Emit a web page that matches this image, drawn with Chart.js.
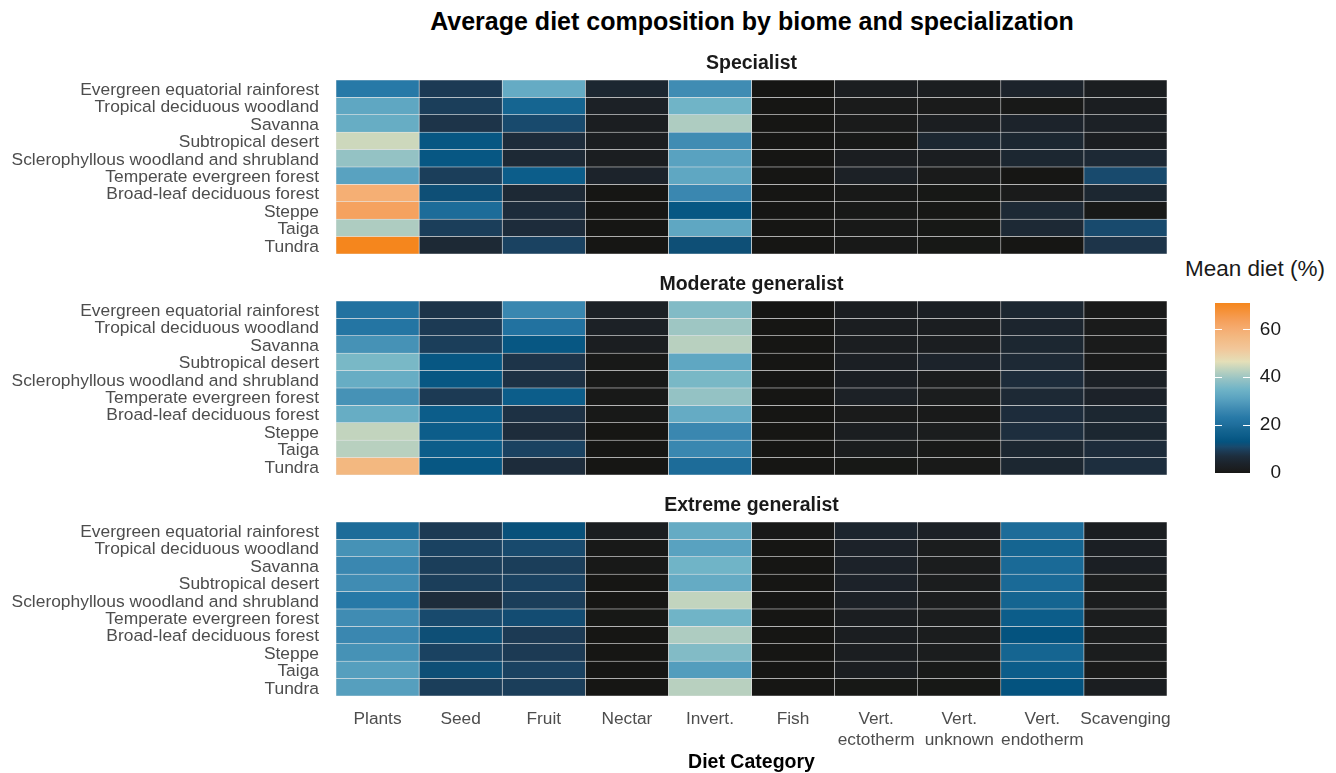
<!DOCTYPE html>
<html>
<head>
<meta charset="utf-8">
<script src="https://cdn.jsdelivr.net/npm/chart.js@4.4.1/dist/chart.umd.min.js"></script>
<style>
  body { margin: 0; background: #fff; font-family: "Liberation Sans", Arial, sans-serif; }
  #wrap { position: relative; width: 1336px; height: 773px; overflow: hidden; }
  canvas { position: absolute; }
  .txt { position: absolute; white-space: nowrap; }
  #title { left: 0; width: 1504px; text-align: center; top: 6px; font-size: 25px; line-height: 30px; font-weight: bold; color: #000; }
  #legendTitle { left: 1185px; top: 256px; font-size: 22.5px; line-height: 26px; color: #1a1a1a; }
</style>
</head>
<body>
<div id="wrap">
  <div class="txt" id="title">Average diet composition by biome and specialization</div>
  <div class="txt" id="legendTitle">Mean diet (%)</div>
  <canvas id="panel1" width="1180" height="204" style="left:0;top:50px"></canvas>
  <canvas id="panel2" width="1180" height="204" style="left:0;top:271px"></canvas>
  <canvas id="panel3" width="1180" height="282" style="left:0;top:492px"></canvas>
  <canvas id="colourbar" width="166" height="240" style="left:1170px;top:250px"></canvas>
</div>
<script>
const biomes = [
  "Evergreen equatorial rainforest", "Tropical deciduous woodland", "Savanna",
  "Subtropical desert", "Sclerophyllous woodland and shrubland", "Temperate evergreen forest",
  "Broad-leaf deciduous forest", "Steppe", "Taiga", "Tundra"
];
const dietCategories = ["Plants", "Seed", "Fruit", "Nectar", "Invert.", "Fish",
  "Vert. ectotherm", "Vert. unknown", "Vert. endotherm", "Scavenging"];
const dietTickLabels = [["Plants"], ["Seed"], ["Fruit"], ["Nectar"], ["Invert."], ["Fish"],
  ["Vert.", "ectotherm"], ["Vert.", "unknown"], ["Vert.", "endotherm"], ["Scavenging"]];

// rows = biomes, columns = diet categories (mean %)
const specialist = [
  [23, 9, 33, 5, 27, 0, 2, 2, 4, 2],
  [32, 9.5, 18, 3, 35, 0, 1, 1, 0.5, 2],
  [33.5, 8, 11, 2, 41.5, 0, 1, 2, 4, 3],
  [44.5, 14, 6.5, 2, 27, 0, 0.5, 5, 5, 2],
  [39, 14, 5.5, 2, 31, 0, 2, 2, 5, 5.5],
  [31, 9.5, 15.5, 4, 32, 0, 3, 1, 0, 11],
  [59.5, 12, 5.5, 0, 26, 0, 0.5, 0.3, 1, 5],
  [63, 19.5, 6.5, 0, 14, 0, 0.5, 0.3, 5.5, 0.5],
  [41.5, 9.5, 6.5, 0, 32, 0, 0.5, 0.3, 5.5, 11],
  [71, 5.5, 10, 0, 12, 0, 0.5, 0.3, 0, 8]
];
const moderateGeneralist = [
  [21, 8, 26, 3, 37, 0, 2, 2.5, 5, 0.8],
  [22, 9, 21, 3, 40, 0, 2, 2, 4.5, 1],
  [28, 9.5, 14, 2, 42.5, 0, 2, 2, 5, 1],
  [36, 14, 8, 0.5, 32, 0, 2.5, 4, 5.5, 0.8],
  [33.5, 14, 7.5, 0.5, 36, 0, 2.5, 1.5, 6.5, 3],
  [28, 9, 15.5, 0.5, 39, 0, 3, 1.5, 5.5, 3.5],
  [33.5, 15.5, 7.5, 0.5, 33, 0, 1, 0.8, 6.5, 5],
  [43.5, 15.5, 6.5, 0, 26, 0, 2, 1.5, 7, 5],
  [42.5, 15.5, 10, 0, 26, 0, 1.5, 0.7, 5, 6.5],
  [57, 14, 6.5, 0, 19.5, 0, 0.3, 0.7, 5, 7]
];
const extremeGeneralist = [
  [19.5, 9, 12.5, 2, 33, 0.5, 4.5, 3, 19.5, 2],
  [28, 10, 11, 0.5, 31, 0, 3.5, 1.5, 18, 2.5],
  [26, 9.5, 9.5, 0.5, 35, 0, 3.5, 1.5, 19, 2.5],
  [27, 9.5, 10, 0, 33, 0, 3.5, 1.5, 19, 1.5],
  [23, 6.5, 9.5, 0, 43.5, 0, 3, 1.5, 18, 1.5],
  [27, 11, 11.5, 0.3, 35, 0, 2, 1.5, 15.5, 1.5],
  [26, 12, 9, 0, 41.5, 0, 2, 1.5, 13, 1.5],
  [28, 10, 9, 0, 37, 0, 2, 1.5, 18, 1.5],
  [30.5, 12, 10, 0, 30, 0, 2, 0.7, 15.5, 1],
  [30.5, 9.5, 9.5, 0, 42.5, 0, 0.3, 0.3, 13, 2]
];
const legendTicks = [0, 20, 40, 60];

// colour scale: value -> colour
const paletteStops = [
  [0, "#161614"], [1, "#1a1b1b"], [2, "#1b1e21"], [4, "#1c232b"], [7, "#1d2e3e"],
  [9, "#1c3a54"], [11, "#184a6d"], [13, "#04537f"], [15.5, "#0c5d8a"], [18, "#156591"],
  [20, "#1f6e9c"], [23, "#2779a7"], [26, "#3a87b0"], [31, "#59a2c0"], [35, "#70b4c7"],
  [39, "#94c2c4"], [43.5, "#c2d4be"], [46.5, "#e4dfb8"], [52, "#f2c699"], [57, "#f3b880"],
  [60, "#f5ad72"], [64, "#f59e58"], [71.1, "#f5861c"]
];

const vmax = Math.max(...[specialist, moderateGeneralist, extremeGeneralist].flat(2));

function hexToRgb(h) {
  return [1, 3, 5].map(i => parseInt(h.slice(i, i + 2), 16));
}
function colourFor(v) {
  for (let i = 1; i < paletteStops.length; i++) {
    const [v1, c1] = paletteStops[i];
    if (v <= v1) {
      const [v0, c0] = paletteStops[i - 1];
      const t = (v - v0) / (v1 - v0);
      const a = hexToRgb(c0), b = hexToRgb(c1);
      const m = a.map((x, k) => Math.round(x + (b[k] - x) * t));
      return `rgb(${m[0]},${m[1]},${m[2]})`;
    }
  }
  return paletteStops[paletteStops.length - 1][1];
}

Chart.defaults.font.family = '"Liberation Sans", Arial, sans-serif';

const stripPlugin = {
  id: "stripLabel",
  afterDraw(chart, args, opts) {
    const { ctx, chartArea } = chart;
    ctx.save();
    ctx.font = 'bold 19.5px "Liberation Sans", Arial, sans-serif';
    ctx.fillStyle = "#1a1a1a";
    ctx.textAlign = "center";
    ctx.textBaseline = "middle";
    ctx.fillText(opts.text, (chartArea.left + chartArea.right) / 2, chartArea.top - 16.5);
    ctx.restore();
  }
};

function makePanel(id, strip, values, showX) {
  new Chart(document.getElementById(id), {
    type: "bar",
    data: {
      labels: biomes,
      datasets: dietCategories.map((name, c) => ({
        label: name,
        data: biomes.map(() => 1),
        backgroundColor: values.map(row => colourFor(row[c])),
        borderColor: "#e8e8e8",
        borderWidth: 0.6,
        borderSkipped: false
      }))
    },
    options: {
      indexAxis: "y",
      responsive: false,
      animation: false,
      layout: { padding: { top: 30, right: 13 } },
      datasets: { bar: { barPercentage: 1, categoryPercentage: 1 } },
      plugins: {
        legend: { display: false },
        tooltip: { enabled: false },
        stripLabel: { text: strip }
      },
      scales: {
        x: {
          display: showX,
          type: "linear",
          stacked: true,
          min: 0,
          max: dietCategories.length,
          grid: { display: false, drawTicks: false },
          border: { display: false },
          afterBuildTicks: s => { s.ticks = dietCategories.map((_, i) => ({ value: i + 0.5 })); },
          afterFit: s => {
            s.height = showX ? 78 : 0;
            s.paddingLeft = 0;
            s.paddingRight = 0;
          },
          ticks: {
            autoSkip: false,
            maxRotation: 0,
            padding: 12.5,
            color: "#4d4d4d",
            font: { size: 17.3, lineHeight: 1.24 },
            callback: v => dietTickLabels[Math.floor(v)]
          },
          title: {
            display: true,
            text: "Diet Category",
            color: "#000",
            font: { size: 19.5, weight: "bold" },
            padding: 0
          }
        },
        y: {
          stacked: true,
          grid: { display: false, drawTicks: false },
          border: { display: false },
          afterFit: s => {
            s.width = 336;
            s.paddingTop = 0;
            s.paddingBottom = 0;
          },
          ticks: { autoSkip: false, padding: 17, labelOffset: 1.5, color: "#4d4d4d", font: { size: 17.4 } }
        }
      }
    },
    plugins: [stripPlugin]
  });
}

makePanel("panel1", "Specialist", specialist, false);
makePanel("panel2", "Moderate generalist", moderateGeneralist, false);
makePanel("panel3", "Extreme generalist", extremeGeneralist, true);

const colourbarTicks = {
  id: "colourbarTicks",
  afterDatasetsDraw(chart) {
    const { ctx, chartArea: a, scales: { y } } = chart;
    ctx.save();
    ctx.strokeStyle = "#fff";
    ctx.lineWidth = 1.2;
    legendTicks.filter(v => v > 0).forEach(v => {
      const py = Math.round(y.getPixelForValue(v)) + 0.5;
      ctx.beginPath();
      ctx.moveTo(a.left, py); ctx.lineTo(a.left + 7, py);
      ctx.moveTo(a.right - 7, py); ctx.lineTo(a.right, py);
      ctx.stroke();
    });
    ctx.restore();
  }
};

new Chart(document.getElementById("colourbar"), {
  type: "bar",
  data: {
    labels: ["Mean diet (%)"],
    datasets: [{
      data: [vmax],
      backgroundColor: ctx => {
        const a = ctx.chart.chartArea;
        if (!a) return "#888";
        const g = ctx.chart.ctx.createLinearGradient(0, a.bottom, 0, a.top);
        paletteStops.forEach(([v, c]) => g.addColorStop(Math.min(v / vmax, 1), c));
        return g;
      },
      borderWidth: 0,
      barPercentage: 1,
      categoryPercentage: 1
    }]
  },
  options: {
    responsive: false,
    animation: false,
    layout: { padding: { left: 45, top: 53, bottom: 17, right: 55 } },
    plugins: { legend: { display: false }, tooltip: { enabled: false } },
    scales: {
      x: { display: false },
      y: {
        position: "right",
        min: 0,
        max: vmax,
        grid: { display: false, drawTicks: false },
        border: { display: false },
        afterBuildTicks: s => { s.ticks = legendTicks.map(v => ({ value: v })); },
        afterFit: s => { s.width = 31; },
        ticks: { crossAlign: "far", color: "#1a1a1a", font: { size: 19 }, padding: 0 }
      }
    }
  },
  plugins: [colourbarTicks]
});
</script>
</body>
</html>
